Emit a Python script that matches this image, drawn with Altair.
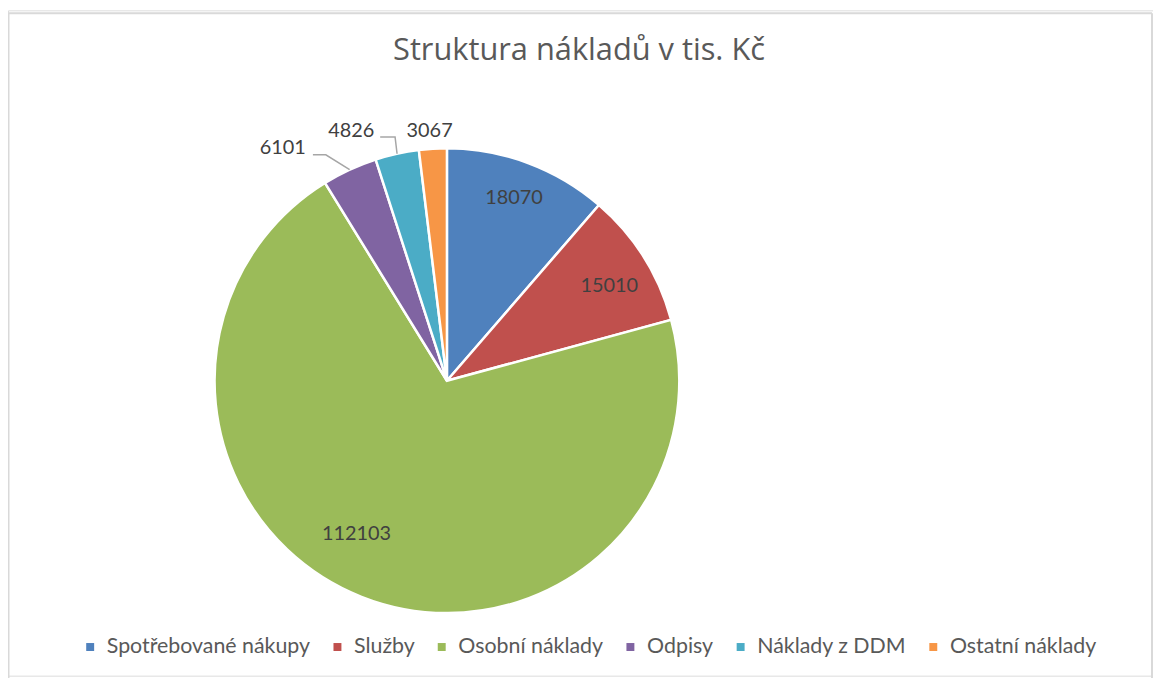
import math
import altair as alt
import pandas as pd

# ---- data ----
categories = ["Spotřebované nákupy", "Služby", "Osobní náklady", "Odpisy", "Náklady z DDM", "Ostatní náklady"]
values = [18070, 15010, 112103, 6101, 4826, 3067]
colors = ["#4F81BD", "#C0504D", "#9BBB59", "#8064A2", "#4BACC6", "#F79646"]
title_text = ["Struktura nákladů v tis. Kč"]

# ---- layout (styles / placement, not data) ----
W, H = 1153, 670
CX, CY, R = 442, 373, 234
FONT = "Lato"
# label placement: (angle shift in degrees from slice middle, radius in px)
label_place = [(-0.3, 196), (2.0, 189), (9.0, 179), (-10.4, 287), (-8.6, 269), (-0.5, 252)]
# leader lines: (elbow dx, elbow dy, horizontal length) for the outside labels
leaders = {3: (-24, -15, 13), 4: (-2, -17, 15)}

total = sum(values)
df = pd.DataFrame({"cat": categories, "value": values, "idx": list(range(len(values)))})

cum = 0.0
mids = []
for v in values:
    mids.append((cum + v / 2) / total * 2 * math.pi)
    cum += v
df["ang"] = [m + math.radians(p[0]) for m, p in zip(mids, label_place)]
df["r"] = [p[1] for p in label_place]
df["label"] = [str(v) for v in values]

rows = []
for i, (ex, ey, hl) in leaders.items():
    m = mids[i]
    x0 = CX + R * math.sin(m)
    y0 = CY - R * math.cos(m)
    x1, y1 = x0 + ex, y0 + ey
    rows += [
        {"seg": i, "o": 0, "x": x0, "y": y0},
        {"seg": i, "o": 1, "x": x1, "y": y1},
        {"seg": i, "o": 2, "x": x1 - hl, "y": y1},
    ]
lead_df = pd.DataFrame(rows)

pie = alt.Chart(df).mark_arc(outerRadius=R, stroke="white", strokeWidth=2.5).encode(
    theta=alt.Theta("value:Q", stack=True),
    order=alt.Order("idx:Q"),
    color=alt.Color(
        "cat:N",
        sort=categories,
        scale=alt.Scale(domain=categories, range=colors),
        legend=alt.Legend(
            title=None,
            orient="none",
            direction="horizontal",
            legendX=72,
            legendY=630,
            symbolType="square",
            symbolSize=64,
            symbolStrokeWidth=0,
            labelFont=FONT,
            labelFontSize=21.5,
            labelColor="#595959",
            labelOffset=6,
            labelLimit=500,
            columnPadding=16,
            columns=6,
            padding=0,
        ),
    ),
    x=alt.value(CX),
    y=alt.value(CY),
)

labels = alt.Chart(df).mark_text(font=FONT, fontSize=20, color="#404040", align="center", baseline="middle").encode(
    theta=alt.Theta("ang:Q", scale=None),
    radius=alt.Radius("r:Q", scale=None),
    text="label:N",
    x=alt.value(CX),
    y=alt.value(CY),
)

lead = alt.Chart(lead_df).mark_line(color="#A6A6A6", strokeWidth=1.5).encode(
    x=alt.X("x:Q", scale=None, axis=None),
    y=alt.Y("y:Q", scale=None, axis=None),
    detail="seg:N",
    order="o:Q",
)

title = alt.Chart(pd.DataFrame({"t": title_text})).mark_text(
    font="Open Sans", fontSize=31, color="#595959", align="center", baseline="alphabetic"
).encode(text="t:N", x=alt.value(575), y=alt.value(50))

frame_df = pd.DataFrame({"x": [0.5, 0.5, 1152], "x2": [1152, 0.5, 1152], "y": [3, 3, 3], "y2": [3, 700, 700]})
frame = alt.Chart(frame_df).mark_rule(color="#D9D9D9", strokeWidth=2).encode(
    x=alt.X("x:Q", scale=None, axis=None),
    x2="x2:Q",
    y=alt.Y("y:Q", scale=None, axis=None),
    y2="y2:Q",
)

chart = alt.layer(frame, title, pie, lead, labels).properties(
    width=W,
    height=H,
    padding={"left": 0, "top": 0, "right": 0, "bottom": 0},
    autosize=alt.AutoSizeParams(type="none"),
).configure_view(strokeWidth=0).configure(background="white")

chart.save("out.html", embed_options={"renderer": "svg", "actions": False})
